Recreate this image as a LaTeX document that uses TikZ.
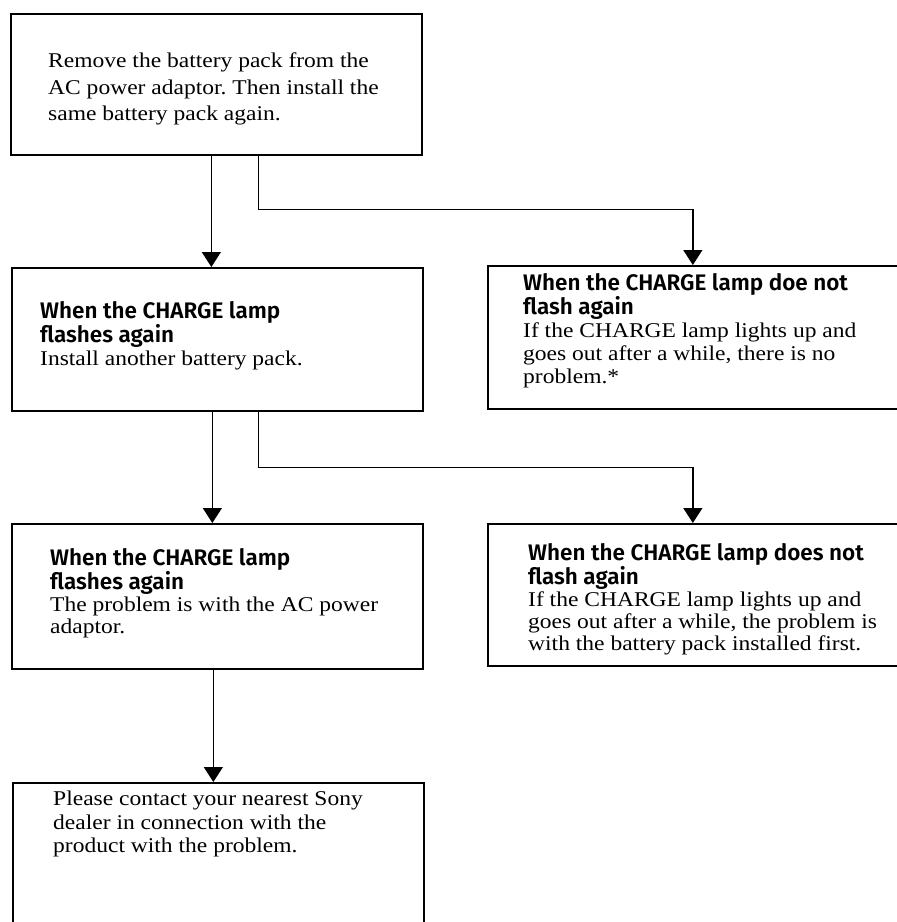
\documentclass[tikz,border=0pt]{standalone}
\usepackage{fontspec}
\setmainfont{Liberation Serif}[FakeStretch=1.12]
\newfontfamily\headfont{Fira Sans}[BoldFont={* SemiBold}]
\usetikzlibrary{positioning,arrows.meta}
\frenchspacing
\newcommand{\hd}[1]{{\headfont\bfseries\fontsize{22.5}{23}\selectfont #1}}
\tikzset{
  box/.style={draw, line width=1.7pt, anchor=north west, inner sep=0pt},
  boxL/.style={box, minimum width=411pt, minimum height=143pt},
  boxR/.style={box, minimum width=420pt, minimum height=143pt},
  txt/.style={align=left, inner sep=0pt, font=\fontsize{21}{23}\selectfont},
  flow/.style={-{Triangle[length=15pt, width=19pt]}, line width=1.3pt},
}
\begin{document}
\begin{tikzpicture}[x=1pt, y=-1pt]
\useasboundingbox (0,0) rectangle (897,922);

% ========== ROW 1: FIRST CHECK ==========
\node[boxL, minimum height=141pt] (start) at (10,13) {};
\node[txt, font=\fontsize{21}{26.5}\selectfont, below right=40pt and 38pt of start.north west] (startTxt)
  {Remove the battery pack from the\\AC power adaptor. Then install the\\same battery pack again.};

% ========== ROW 2: SAME BATTERY PACK ==========
\node[boxL] (again1) at (11,267) {};
\node[txt, below right=34pt and 29pt of again1.north west] (again1Txt)
  {\hd{When the CHARGE lamp}\\\hd{flashes again}\\Install another battery pack.};

\node[boxR] (noflash1) at (487,265) {};
\node[txt, below right=8pt and 36pt of noflash1.north west] (noflash1Txt)
  {\hd{When the CHARGE lamp doe not}\\\hd{flash again}\\If the CHARGE lamp lights up and\\goes out after a while, there is no\\problem.*};

% ========== ROW 3: ANOTHER BATTERY PACK ==========
\node[boxL, minimum height=145pt] (again2) at (11,523) {};
\node[txt, font=\fontsize{21}{22}\selectfont, below right=25pt and 39pt of again2.north west] (again2Txt)
  {\hd{When the CHARGE lamp}\\\hd{flashes again}\\The problem is with the AC power\\adaptor.};

\node[boxR, minimum height=142pt] (noflash2) at (487,523) {};
\node[txt, font=\fontsize{21}{22}\selectfont, below right=20pt and 41pt of noflash2.north west] (noflash2Txt)
  {\hd{When the CHARGE lamp does not}\\\hd{flash again}\\If the CHARGE lamp lights up and\\goes out after a while, the problem is\\with the battery pack installed first.};

% ========== ROW 4: DEALER ==========
\node[boxL, minimum height=150pt] (dealer) at (12,782) {};
\node[txt, font=\fontsize{21}{23.5}\selectfont, below right=9pt and 41pt of dealer.north west] (dealerTxt)
  {Please contact your nearest Sony\\dealer in connection with the\\product with the problem.};

% connectors
\draw[flow] ([xshift=-5]start.south) -- ([xshift=-5]start.south |- again1.north);
\draw[flow] ([xshift=42]start.south) -- ++(0,54) -| ([xshift=-5]noflash1.north);
\draw[flow] ([xshift=-5]again1.south) -- ([xshift=-5]again1.south |- again2.north);
\draw[flow] ([xshift=41]again1.south) -- ++(0,56) -| ([xshift=-5]noflash2.north);
\draw[flow] ([xshift=-4]again2.south) -- ([xshift=-4]again2.south |- dealer.north);

\end{tikzpicture}
\end{document}
